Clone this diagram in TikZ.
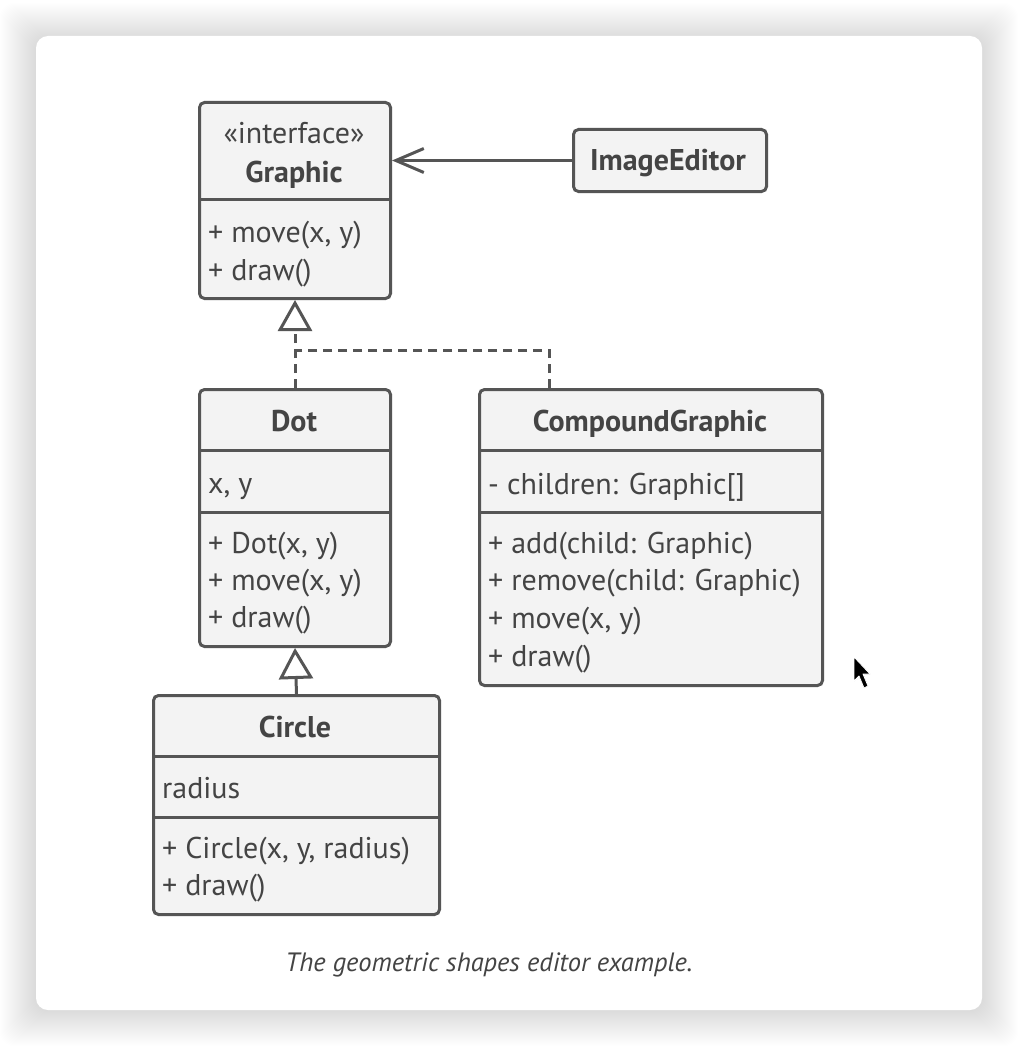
\documentclass[tikz,border=0pt]{standalone}
\usepackage{fontspec}
\setmainfont{PT Sans}
\usetikzlibrary{arrows.meta,calc}
\definecolor{lc}{HTML}{555555}
\definecolor{tc}{HTML}{444444}
\definecolor{bf}{HTML}{F3F3F3}
\newcommand{\fsz}{\fontsize{30}{36}\selectfont}
\tikzset{
  umlbox/.style={draw=lc, fill=bf, line width=3pt, rounded corners=5pt, inner sep=0pt, anchor=north west},
  divline/.style={draw=lc, line width=3pt},
  ttl/.style={font=\fsz\bfseries, text=tc, inner sep=0pt, text height=27pt, text depth=6pt},
  stereo/.style={font=\fsz, text=tc, inner sep=0pt, text height=27pt, text depth=6pt},
  mem/.style={font=\fsz, text=tc, inner sep=0pt, anchor=west, text height=27pt, text depth=6pt},
  conn/.style={draw=lc, line width=3pt},
  dashconn/.style={draw=lc, line width=3pt, dash pattern=on 9pt off 6pt},
  inherit/.style={-{Triangle[open, length=31pt, width=34pt, line width=3pt]}},
}
\begin{document}
\begin{tikzpicture}[x=1pt, y=-1pt]
\useasboundingbox (0,0) rectangle (1018,1046);
% shadow + card
\foreach \i in {1,...,36} {
  \fill[black, opacity=0.005, rounded corners=14pt] (36-\i,36-\i+3) rectangle (982+\i,1010+\i);
}
\fill[white, rounded corners=12pt] (36,36) rectangle (982,1010);

% Graphic
\node[umlbox, minimum width=191pt, minimum height=196pt] (graphic) at (198,101) {};
\draw[divline] (198,199) -- (389,199);
\node[stereo] (gst) at (294,133) {«interface»};
\node[ttl] (gtitle) at (294,172) {Graphic};
\node[mem] (gm1) at (208,232) {+ move(x, y)};
\node[mem] (gm2) at (208,270) {+ draw()};

% ImageEditor
\node[umlbox, minimum width=193pt, minimum height=62pt] (ie) at (572,128) {};
\node[ttl] (ietitle) at (668,160) {ImageEditor};

% Dot
\node[umlbox, minimum width=191pt, minimum height=257pt] (dot) at (198,388) {};
\draw[divline] (198,450) -- (389,450);
\draw[divline] (198,512) -- (389,512);
\node[ttl] (dtitle) at (294,421) {Dot};
\node[mem] (da1) at (208,483) {x, y};
\node[mem] (dm1) at (208,543) {+ Dot(x, y)};
\node[mem] (dm2) at (208,580) {+ move(x, y)};
\node[mem] (dm3) at (208,617) {+ draw()};

% CompoundGraphic
\node[umlbox, minimum width=343pt, minimum height=296pt] (cg) at (478,388) {};
\draw[divline] (478,450) -- (821,450);
\draw[divline] (478,512) -- (821,512);
\node[ttl] (cgtitle) at (650,421) {CompoundGraphic};
\node[mem] (cga1) at (488,484) {- children: Graphic[]};
\node[mem] (cgm1) at (488,543) {+ add(child: Graphic)};
\node[mem] (cgm2) at (488,580) {+ remove(child: Graphic)};
\node[mem] (cgm3) at (488,618) {+ move(x, y)};
\node[mem] (cgm4) at (488,656) {+ draw()};

% Circle
\node[umlbox, minimum width=286pt, minimum height=219pt] (circ) at (152,694) {};
\draw[divline] (152,756) -- (438,756);
\draw[divline] (152,817) -- (438,817);
\node[ttl] (ctitle) at (295,727) {Circle};
\node[mem] (ca1) at (162,788) {radius};
\node[mem] (cm1) at (162,848) {+ Circle(x, y, radius)};
\node[mem] (cm2) at (162,885) {+ draw()};

% connectors
\draw[conn, -{Straight Barb[length=28pt, width=24pt, line width=3pt]}] (ie.west) -- (ie.west -| graphic.east);
\draw[dashconn, inherit] (dot.north) -- (graphic.south);
\coordinate (j) at (294,350);
\draw[dashconn] ([xshift=71pt]cg.north west) |- (j);
\draw[conn, inherit] (circ.north) -- (dot.south);

% cursor
\fill[black, draw=white, line width=0.8pt, line join=round] (854,657) -- (854,681) -- (859,676) -- (864,688) -- (868,686) -- (863,674) -- (870,674) -- cycle;

% caption
\node[font=\fontsize{26.5}{32}\selectfont\itshape, text=tc, inner sep=0pt, text height=22pt, text depth=6pt] (cap) at (489,963) {The geometric shapes editor example.};
\end{tikzpicture}
\end{document}
